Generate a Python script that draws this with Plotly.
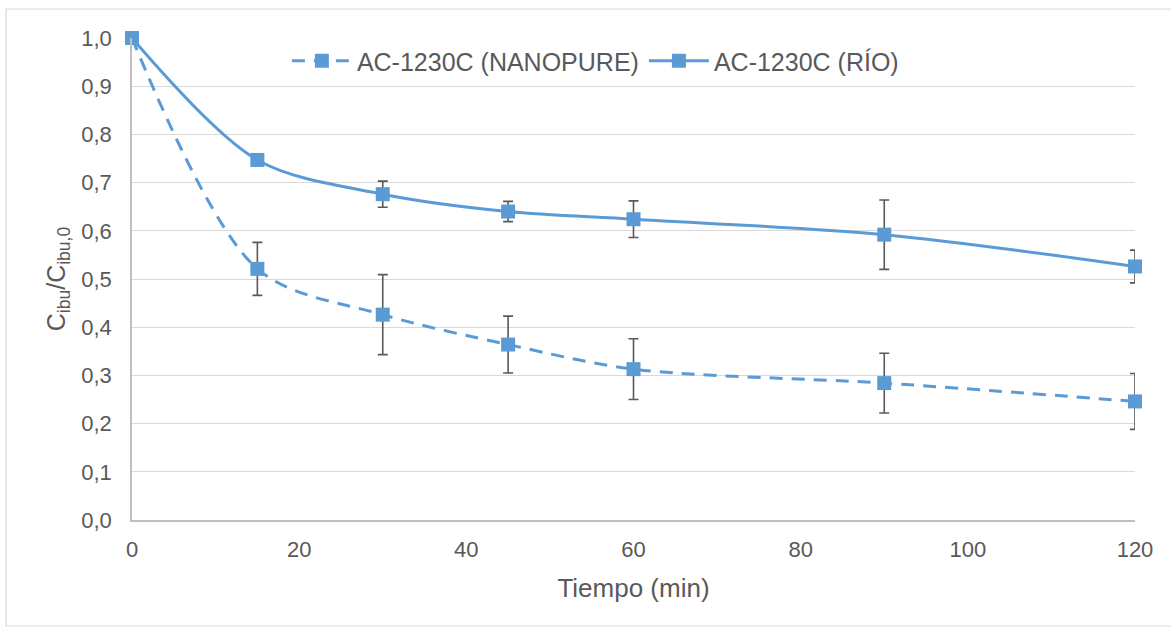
import plotly.graph_objects as go

tiempo = [0, 15, 30, 45, 60, 90, 120]
nanopure = [1.0, 0.521, 0.426, 0.364, 0.313, 0.284, 0.246]
nanopure_err = [0.0, 0.055, 0.083, 0.059, 0.063, 0.062, 0.058]
rio = [1.0, 0.747, 0.676, 0.640, 0.624, 0.592, 0.526]
rio_err = [0.0, 0.0, 0.027, 0.021, 0.038, 0.072, 0.034]

blue = "#5B9BD5"
grey_txt = "#595959"
font_family = "Liberation Sans, Arial, sans-serif"

fig = go.Figure()
fig.add_trace(go.Scatter(
    x=tiempo, y=nanopure, name="AC-1230C (NANOPURE)",
    mode="lines+markers",
    line=dict(color=blue, width=3, dash="13px,9px", shape="spline", smoothing=0.9),
    marker=dict(symbol="square", size=14, color=blue),
    error_y=dict(type="data", array=nanopure_err, visible=True, color=grey_txt, thickness=1.6, width=5),
    cliponaxis=False,
))
fig.add_trace(go.Scatter(
    x=tiempo, y=rio, name="AC-1230C (RÍO)",
    mode="lines+markers",
    line=dict(color=blue, width=3, shape="spline", smoothing=0.9),
    marker=dict(symbol="square", size=14, color=blue),
    error_y=dict(type="data", array=rio_err, visible=True, color=grey_txt, thickness=1.6, width=5),
    cliponaxis=False,
))

L, R, T, B = 132, 36, 38, 107
W, H = 1171, 627
pw = W - L - R
ph = H - T - B

fig.update_layout(
    width=W, height=H,
    margin=dict(l=L, r=R, t=T, b=B),
    paper_bgcolor="white", plot_bgcolor="white",
    separators=",.",
    font=dict(family=font_family, color=grey_txt, size=22),
    showlegend=True,
    legend=dict(orientation="h", x=0.462, xanchor="center", y=1.0, yanchor="top",
                font=dict(size=25, color=grey_txt), bgcolor="rgba(255,255,255,0)",
                itemwidth=60, tracegroupgap=0),
    xaxis=dict(range=[0, 120], tickvals=[0, 20, 40, 60, 80, 100, 120], showgrid=False,
               showline=True, linecolor="#BFBFBF", linewidth=1.5, zeroline=False,
               ticks="", tickfont=dict(size=22, color=grey_txt), ticklabelstandoff=9,
               title=dict(text="Tiempo (min)", font=dict(size=26, color=grey_txt), standoff=18)),
    yaxis=dict(range=[0, 1.0], dtick=0.1, tickformat=".1f", showgrid=True, gridcolor="#D9D9D9",
               gridwidth=1.2, showline=True, linecolor="#BFBFBF", linewidth=1.5, zeroline=False,
               ticks="", tickfont=dict(size=22, color=grey_txt), ticklabelstandoff=14,
               title=dict(text="C<sub>ibu</sub>/C<sub>ibu,0</sub>", font=dict(size=25, color=grey_txt), standoff=9)),
    shapes=[dict(type="rect", xref="paper", yref="paper",
                 x0=(6 - L) / pw, x1=(W + 5 - L) / pw,
                 y0=-(B - 1) / ph, y1=(H - 9 - B) / ph,
                 line=dict(color="#D9D9D9", width=1.2), fillcolor="rgba(0,0,0,0)", layer="below")],
)

fig.write_html("out.html")
